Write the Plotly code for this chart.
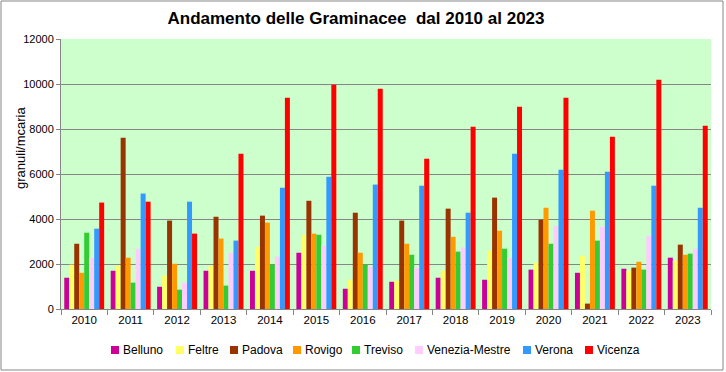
import plotly.graph_objects as go

years = ["2010", "2011", "2012", "2013", "2014", "2015", "2016", "2017", "2018", "2019", "2020", "2021", "2022", "2023"]

belluno = [1390, 1700, 990, 1700, 1700, 2500, 900, 1210, 1390, 1300, 1750, 1610, 1790, 2280]
feltre = [1970, 1930, 1480, 1930, 2760, 3290, 1300, 1260, 1700, 2590, 2060, 2370, 1700, 2150]
padova = [2900, 7610, 3930, 4100, 4150, 4810, 4280, 3930, 4460, 4950, 3970, 240, 1840, 2860]
rovigo = [1610, 2280, 2010, 3130, 3840, 3350, 2500, 2900, 3210, 3480, 4500, 4370, 2100, 2410]
treviso = [3390, 1170, 860, 1040, 1970, 3300, 1970, 2410, 2550, 2680, 2900, 3040, 1750, 2460]
venezia = [2280, 2680, 1170, 2500, 2330, 2810, 1880, 1830, 2730, 2280, 3700, 3660, 3260, 2680]
verona = [3570, 5130, 4770, 3040, 5390, 5880, 5530, 5480, 4280, 6900, 6190, 6100, 5480, 4500]
vicenza = [4730, 4770, 3350, 6900, 9390, 9970, 9790, 6680, 8100, 8990, 9390, 7660, 10190, 8140]

series_names = ["Belluno", "Feltre", "Padova", "Rovigo", "Treviso", "Venezia-Mestre", "Verona", "Vicenza"]
series_values = [belluno, feltre, padova, rovigo, treviso, venezia, verona, vicenza]
series_colors = ["#CC0099", "#FFFF66", "#993300", "#FF9900", "#33CC33", "#FFCCFF", "#3399FF", "#FF0000"]

# legend layout (pixel positions of the square's left edge in the picture)
legend_square_x = [111, 176, 230, 293, 352, 415, 523, 585]

fig = go.Figure()
for name, vals, col in zip(series_names, series_values, series_colors):
    fig.add_trace(go.Bar(x=years, y=vals, name=name, showlegend=False,
                         marker=dict(color=col, line=dict(width=0))))

W, H = 726, 372
L, R, T, B = 61, 15, 39, 63
pw, ph = W - L - R, H - T - B

def px_x(p):
    return (p - L) / pw

def px_y(p):
    return (H - B - p) / ph

shapes = [dict(
    type="rect", xref="paper", yref="paper",
    x0=px_x(1), x1=px_x(723), y0=px_y(370), y1=px_y(1),
    line=dict(color="#868686", width=1), fillcolor="rgba(0,0,0,0)", layer="below",
)]
annotations = [dict(
    text="granuli/mcaria", xref="paper", yref="paper", x=px_x(20), y=px_y(148),
    xanchor="center", yanchor="middle", textangle=-90, showarrow=False,
    font=dict(size=13, color="black"),
)]
for name, col, sx in zip(series_names, series_colors, legend_square_x):
    shapes.append(dict(
        type="rect", xref="paper", yref="paper",
        x0=px_x(sx), x1=px_x(sx + 8), y0=px_y(354), y1=px_y(346),
        line=dict(width=0), fillcolor=col, layer="above",
    ))
    annotations.append(dict(
        text=name, xref="paper", yref="paper", x=px_x(sx + 10), y=px_y(350),
        xanchor="left", yanchor="middle", showarrow=False,
        font=dict(size=12, color="black"),
    ))

fig.update_layout(
    width=W, height=H,
    margin=dict(l=L, r=R, t=T, b=B, autoexpand=False),
    paper_bgcolor="white",
    plot_bgcolor="#CCFFCC",
    barmode="group",
    bargap=0.14,
    bargroupgap=0,
    showlegend=False,
    font=dict(family="Liberation Sans, Arial, sans-serif", color="black"),
    title=dict(
        text="<b>Andamento delle Graminacee  dal 2010 al 2023</b>",
        x=356 / W, xanchor="center", xref="container",
        y=1 - 18 / H, yanchor="middle", yref="container",
        font=dict(family="Liberation Sans Narrow, Liberation Sans, Arial, sans-serif", size=17, color="black"),
    ),
    xaxis=dict(
        showgrid=False, showline=True, linecolor="#868686", linewidth=1,
        ticks="outside", ticklen=5, tickcolor="#868686", tickson="boundaries",
        tickfont=dict(size=11.5), fixedrange=True,
    ),
    yaxis=dict(
        range=[0, 12000], dtick=2000, tickformat="d", showgrid=True, gridcolor="#868686", gridwidth=1,
        showline=True, linecolor="#868686", linewidth=1, zeroline=False,
        ticks="outside", ticklen=4, tickcolor="#868686", tickfont=dict(size=11),
        fixedrange=True,
    ),
    shapes=shapes,
    annotations=annotations,
)

fig.write_html("out.html", config={"displayModeBar": False},
               post_script="document.body.style.margin='0';document.body.style.overflow='hidden';")
